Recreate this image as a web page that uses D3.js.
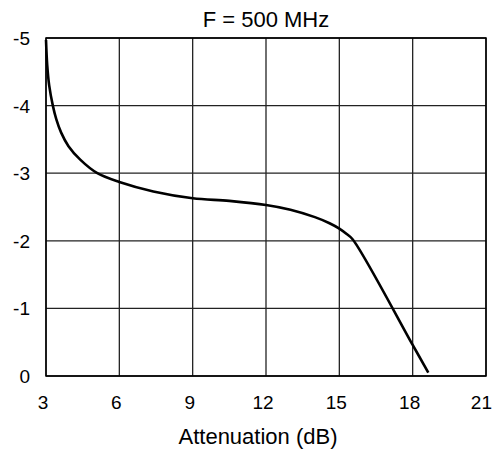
<!DOCTYPE html>
<html>
<head>
<meta charset="utf-8" />
<style>

body {
    margin: 0;
    background-color: #FFF;
}

text {
    font-family: "Liberation Sans", Arial, sans-serif;
    fill: #000;
}

</style>
<title>F = 500 MHz</title>
</head>

<body>
<div id="chart"></div>

<script src="https://d3js.org/d3.v7.min.js"></script>
<script>

// curve
var atten = [3.0, 3.05, 3.13, 3.28, 3.42, 3.62, 3.92, 4.4, 5.1, 6.0, 7.39, 9.0, 10.5, 12.0, 13.0, 14.0, 14.6, 15.0, 15.3, 15.55, 18.0, 18.64];
var phase = [-4.97, -4.6, -4.3, -4.0, -3.8, -3.6, -3.4, -3.2, -3.0, -2.87, -2.73, -2.63, -2.59, -2.53, -2.46, -2.35, -2.26, -2.18, -2.1, -2.02, -0.46, -0.05];

var xTicks = [3, 6, 9, 12, 15, 18, 21];
var yTicks = [0, -1, -2, -3, -4, -5];

var title = "F = 500 MHz";
var xTitle = "Attenuation (dB)";

var width = 493, height = 450;
var margin = {top: 38, right: 7, bottom: 74, left: 46};

var svg = d3.select("#chart").append("svg")
        .attr("width", width)
        .attr("height", height);

var x = d3.scaleLinear().domain([3, 21]).range([margin.left, width - margin.right]);
var y = d3.scaleLinear().domain([0, -5]).range([height - margin.bottom, margin.top]);

// grid
svg.append("g").selectAll("line").data(xTicks).enter()
    .append("line")
    .attr("x1", function(d) { return x(d); })
    .attr("x2", function(d) { return x(d); })
    .attr("y1", y(0))
    .attr("y2", y(-5))
    .attr("stroke", "#222")
    .attr("stroke-width", 1.3);

svg.append("g").selectAll("line").data(yTicks).enter()
    .append("line")
    .attr("x1", x(3))
    .attr("x2", x(21))
    .attr("y1", function(d) { return y(d); })
    .attr("y2", function(d) { return y(d); })
    .attr("stroke", "#222")
    .attr("stroke-width", 1.3);

// frame
svg.append("rect")
    .attr("x", x(3))
    .attr("y", y(-5))
    .attr("width", x(21) - x(3))
    .attr("height", y(0) - y(-5))
    .attr("fill", "none")
    .attr("stroke", "#000")
    .attr("stroke-width", 1.5);

// tick labels
svg.append("g").selectAll("text").data(yTicks).enter()
    .append("text")
    .attr("x", 30)
    .attr("y", function(d) { return y(d) + 7; })
    .attr("text-anchor", "end")
    .style("font-size", "19px")
    .text(function(d) { return d; });

svg.append("g").selectAll("text").data(xTicks).enter()
    .append("text")
    .attr("y", 409)
    .attr("text-anchor", "middle")
    .style("font-size", "19px")
    .text(function(d) { return d; })
    .attr("x", function(d) {
        var half = this.getComputedTextLength() / 2;
        return Math.min(x(d) - 3, width - half - 1);
    });

svg.append("text")
    .attr("x", (x(3) + x(21)) / 2)
    .attr("y", 27)
    .attr("text-anchor", "middle")
    .style("font-size", "22px")
    .text(title);

svg.append("text")
    .attr("x", 258)
    .attr("y", 444)
    .attr("text-anchor", "middle")
    .style("font-size", "22px")
    .text(xTitle);

// curve
var pts = atten.map(function(d, i) { return [d, phase[i]]; });

var line = d3.line()
    .x(function(d) { return x(d[0]); })
    .y(function(d) { return y(d[1]); })
    .curve(d3.curveCatmullRom.alpha(0.5));

svg.append("path")
    .datum(pts)
    .attr("d", line)
    .attr("fill", "none")
    .attr("stroke", "#000")
    .attr("stroke-width", 2.6);

</script>
</body>
</html>
